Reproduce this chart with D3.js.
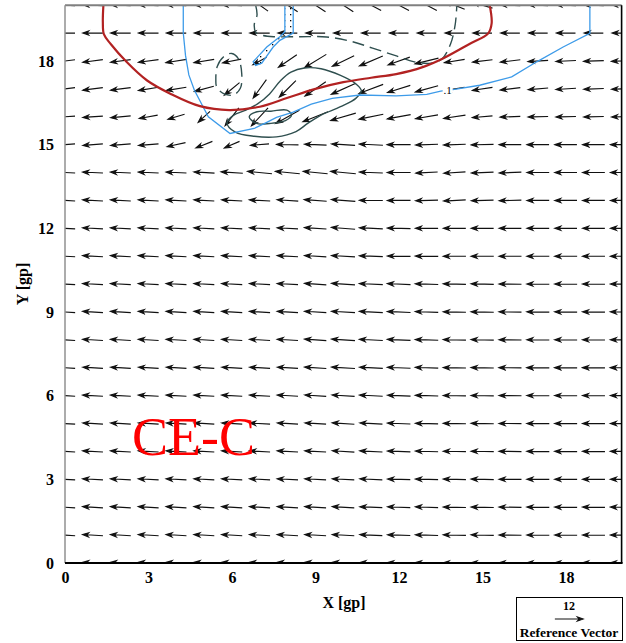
<!DOCTYPE html>
<html><head><meta charset="utf-8">
<script src="https://cdn.jsdelivr.net/npm/d3@7/dist/d3.min.js"></script>
<style>body{margin:0;background:#fff}svg{display:block}</style>
</head><body>
<svg id="c" width="626" height="643"></svg>
<script>
// ---------- data ----------
const gridX=[0,1,2,3,4,5,6,7,8,9,10,11,12,13,14,15,16,17,18,19,20];
const gridY=[0,1,2,3,4,5,6,7,8,9,10,11,12,13,14,15,16,17,18,19,20];
const xTicks=[0,3,6,9,12,15,18];
const yTicks=[0,3,6,9,12,15,18];
// U (east-west) and V (north-south) components, rows are Y = 0..20, columns X = 0..20
const U=[
[-8.6,-8.6,-8.6,-8.6,-8.6,-8.6,-8.7,-8.7,-8.8,-9.0,-9.3,-9.5,-9.6,-9.6,-9.6,-9.6,-9.5,-9.5,-9.5,-9.5,-9.5],
[-8.6,-8.6,-8.6,-8.6,-8.6,-8.6,-8.7,-8.7,-8.8,-9.0,-9.3,-9.5,-9.6,-9.6,-9.6,-9.6,-9.5,-9.5,-9.5,-9.5,-9.5],
[-8.6,-8.6,-8.6,-8.6,-8.6,-8.6,-8.7,-8.7,-8.8,-9.0,-9.3,-9.5,-9.6,-9.6,-9.6,-9.6,-9.5,-9.5,-9.5,-9.5,-9.5],
[-8.6,-8.6,-8.6,-8.6,-8.6,-8.6,-8.7,-8.7,-8.8,-9.0,-9.3,-9.5,-9.6,-9.6,-9.6,-9.6,-9.5,-9.5,-9.5,-9.5,-9.5],
[-8.6,-8.6,-8.6,-8.6,-8.6,-8.6,-8.7,-8.7,-8.8,-9.0,-9.4,-9.6,-9.7,-9.6,-9.6,-9.6,-9.5,-9.5,-9.5,-9.5,-9.5],
[-8.6,-8.6,-8.6,-8.6,-8.6,-8.6,-8.7,-8.7,-8.8,-9.0,-9.4,-9.6,-9.7,-9.6,-9.6,-9.6,-9.5,-9.5,-9.5,-9.5,-9.5],
[-8.6,-8.6,-8.6,-8.6,-8.6,-8.6,-8.7,-8.7,-8.8,-9.1,-9.6,-9.8,-9.8,-9.7,-9.6,-9.6,-9.5,-9.5,-9.5,-9.5,-9.5],
[-8.6,-8.6,-8.6,-8.6,-8.6,-8.6,-8.7,-8.7,-8.8,-9.2,-9.9,-9.9,-9.8,-9.7,-9.6,-9.6,-9.5,-9.5,-9.5,-9.5,-9.5],
[-8.6,-8.6,-8.6,-8.6,-8.6,-8.6,-8.7,-8.7,-8.8,-9.2,-9.9,-9.9,-9.8,-9.7,-9.6,-9.6,-9.5,-9.5,-9.5,-9.5,-9.5],
[-8.6,-8.6,-8.6,-8.6,-8.6,-8.6,-8.7,-8.7,-8.8,-9.2,-9.9,-9.9,-9.8,-9.7,-9.6,-9.6,-9.5,-9.5,-9.5,-9.5,-9.5],
[-8.6,-8.6,-8.6,-8.6,-8.6,-8.6,-8.7,-8.7,-8.8,-9.2,-9.9,-9.9,-9.8,-9.7,-9.6,-9.6,-9.5,-9.5,-9.5,-9.5,-9.5],
[-8.6,-8.6,-8.6,-8.6,-8.6,-8.6,-8.7,-8.7,-8.8,-9.2,-9.9,-9.9,-9.8,-9.7,-9.6,-9.6,-9.5,-9.5,-9.5,-9.5,-9.5],
[-8.6,-8.6,-8.6,-8.6,-8.6,-8.6,-8.7,-8.7,-8.8,-9.3,-10.0,-9.9,-9.8,-9.6,-9.5,-9.5,-9.4,-9.4,-9.4,-9.4,-9.4],
[-8.6,-8.6,-8.6,-8.6,-8.6,-8.6,-8.7,-8.8,-9.0,-9.5,-10.2,-9.9,-9.8,-9.5,-9.4,-9.4,-9.4,-9.4,-9.4,-9.4,-9.4],
[-8.6,-8.6,-8.6,-8.6,-8.6,-8.8,-9.2,-10.3,-10.3,-10.3,-10.6,-9.9,-9.9,-9.2,-9.2,-9.4,-9.4,-9.4,-9.4,-9.4,-9.4],
[-8.5,-8.5,-8.5,-8.5,-7.8,-7.0,-6.4,-7.8,-9.2,-9.4,-10.0,-10.0,-9.9,-9.5,-9.4,-9.4,-9.3,-9.3,-9.3,-9.3,-9.3],
[-8.5,-8.5,-8.5,-7.8,-7.0,-5.0,-5.8,-7.0,-10.0,-10.6,-10.6,-10.3,-9.9,-9.5,-9.2,-8.5,-8.5,-8.5,-8.5,-8.5,-8.5],
[-8.5,-8.5,-8.5,-8.5,-8.5,-8.2,-6.4,-5.6,-7.0,-8.8,-10.2,-10.2,-9.6,-9.6,-8.5,-8.5,-8.5,-8.5,-8.5,-8.5,-8.5],
[-8.5,-8.5,-8.5,-8.5,-8.7,-8.5,-7.8,-5.8,-7.8,-9.2,-9.2,-9.9,-9.2,-9.9,-8.5,-8.5,-8.5,-8.5,-8.5,-8.5,-8.5],
[-8.5,-8.5,-8.5,-8.5,-8.4,-8.4,-8.4,-8.4,-8.2,-8.2,-8.2,-8.1,-8.1,-8.1,-8.1,-8.1,-8.1,-8.1,-8.1,-8.1,-8.1],
[-8.5,-8.5,-8.5,-8.5,-8.5,-8.5,-8.5,-7.0,-8.5,-8.5,-8.5,-8.5,-8.5,-8.5,-8.5,-8.5,-8.5,-8.5,-8.5,-8.5,-8.5]
];
const V=[
[0.5,0.5,0.5,0.5,0.5,0.5,0.5,0.5,0.5,0.5,0.5,0.4,0.3,0.3,0.2,0.2,0.1,0.1,0.1,0.1,0.1],
[0.5,0.5,0.5,0.5,0.5,0.5,0.5,0.5,0.5,0.5,0.5,0.4,0.3,0.3,0.2,0.2,0.1,0.1,0.1,0.1,0.1],
[0.5,0.5,0.5,0.5,0.5,0.5,0.5,0.5,0.5,0.5,0.5,0.4,0.3,0.3,0.2,0.2,0.1,0.1,0.1,0.1,0.1],
[0.5,0.5,0.5,0.5,0.5,0.5,0.5,0.5,0.5,0.5,0.5,0.4,0.3,0.3,0.2,0.2,0.1,0.1,0.1,0.1,0.1],
[0.5,0.5,0.5,0.5,0.5,0.5,0.5,0.5,0.5,0.5,0.6,0.5,0.4,0.3,0.2,0.2,0.1,0.1,0.1,0.1,0.1],
[0.5,0.5,0.5,0.5,0.5,0.5,0.5,0.5,0.5,0.5,0.6,0.5,0.4,0.3,0.2,0.2,0.1,0.1,0.1,0.1,0.1],
[0.5,0.5,0.5,0.5,0.5,0.5,0.5,0.5,0.5,0.6,0.6,0.5,0.4,0.3,0.2,0.2,0.1,0.1,0.1,0.1,0.1],
[0.5,0.5,0.5,0.5,0.5,0.5,0.5,0.5,0.5,0.6,0.6,0.5,0.4,0.3,0.2,0.2,0.1,0.1,0.1,0.1,0.1],
[0.5,0.5,0.5,0.5,0.5,0.5,0.5,0.5,0.5,0.6,0.6,0.5,0.4,0.3,0.2,0.2,0.1,0.1,0.1,0.1,0.1],
[0.5,0.5,0.5,0.5,0.5,0.5,0.5,0.5,0.5,0.6,0.6,0.5,0.4,0.3,0.2,0.2,0.1,0.1,0.1,0.1,0.1],
[0.5,0.5,0.5,0.5,0.5,0.5,0.5,0.5,0.5,0.6,0.6,0.5,0.4,0.3,0.2,0.2,0.1,0.1,0.1,0.1,0.1],
[0.5,0.5,0.5,0.5,0.5,0.5,0.5,0.5,0.5,0.6,0.6,0.4,0.2,0.1,0.0,0.0,0.0,0.0,0.0,0.0,0.0],
[0.5,0.5,0.5,0.5,0.5,0.5,0.5,0.5,0.5,0.6,0.8,0.5,0.2,0.0,0.0,0.0,0.0,0.0,0.0,0.0,0.0],
[0.5,0.5,0.5,0.5,0.5,0.5,0.5,0.5,0.6,0.7,0.8,0.1,0.0,-0.3,-0.5,-0.3,-0.2,0.0,0.0,0.0,0.0],
[0.4,0.4,0.4,0.4,0.4,0.5,0.6,1.0,1.0,1.0,1.0,0.4,0.0,-0.5,-0.6,-0.4,-0.4,0.0,0.0,0.0,0.0],
[-0.7,-0.7,-0.7,-0.7,-1.7,-2.8,-2.8,-0.6,0.2,0.4,0.6,0.5,0.0,-0.3,-0.3,-0.2,0.0,0.0,0.0,0.0,0.0],
[-0.5,-0.6,-0.8,-1.4,-2.1,-4.6,-7.5,-7.5,-5.6,-4.2,-3.1,-2.1,-1.8,-1.6,-1.4,-0.7,-0.3,-0.2,-0.2,-0.2,-0.2],
[-1.0,-1.1,-1.1,-1.4,-1.4,-2.2,-5.3,-7.8,-7.0,-6.0,-4.6,-3.8,-3.0,-2.6,-1.4,-1.3,-1.0,-0.7,-0.5,-0.3,-0.3],
[-1.0,-1.1,-1.1,-1.1,-1.4,-1.4,-1.6,-3.2,-5.3,-5.6,-4.4,-4.2,-3.3,-2.4,-1.4,-1.0,-1.0,-0.5,-0.4,-0.3,-0.3],
[0.0,0.0,0.0,0.0,0.0,0.0,0.0,0.0,0.0,0.0,0.0,0.0,0.0,0.0,0.0,0.0,0.0,0.0,0.0,0.0,0.0],
[0.5,0.5,0.5,0.5,0.5,0.5,0.5,5.0,5.5,5.5,5.5,4.5,4.5,4.5,3.5,2.5,0.5,0.5,0.5,0.5,0.5]
];
const refMagnitude=12;
// contour lines [x, y] in grid points
const redContour=[[1.38,20],[1.36,19.4],[1.4,18.95],[1.65,18.6],[2.2,17.98],[2.95,17.3],[3.8,16.82],[4.85,16.38],[5.9,16.24],[7.0,16.36],[8.0,16.68],[9.0,17.0],[10.0,17.24],[11.0,17.4],[11.9,17.53],[12.85,17.78],[13.6,18.1],[14.55,18.62],[15.2,18.98],[15.33,19.35],[15.26,20]];
const blueContour=[[4.25,20],[4.25,19.0],[4.33,18.2],[4.45,17.5],[4.65,16.95],[5.15,16.0],[5.93,15.4],[6.8,15.58],[7.25,15.8],[7.6,15.98],[8.2,16.17],[8.85,16.45],[9.6,16.66],[10.6,16.78],[11.9,16.75],[13.0,16.8],[13.5,16.92],[14.0,16.98],[14.9,17.13],[16.05,17.43],[16.95,17.97],[17.9,18.5],[18.86,18.99],[18.86,20]];
const bluePatch=[[8.2,20],[8.2,19.0],[7.72,18.74],[7.48,18.5],[7.07,17.92],[6.85,17.84],[6.76,17.97],[7.25,18.5],[7.72,18.87],[7.9,19.05],[7.9,20]];
const dashLoop=[[5.42,17.3],[5.47,17.8],[5.7,18.15],[5.99,18.27],[6.23,18.08],[6.35,17.55],[6.3,17.02],[6.05,16.78],[5.7,16.83],[5.45,17.07]];
const dashLine=[[6.85,20],[6.9,19.65],[6.8,19.3],[6.86,19.02],[7.1,18.92],[7.5,18.87],[8.44,18.87],[9.4,18.86],[10.3,18.7],[11.05,18.46],[11.85,18.2],[12.55,17.97],[13.15,17.92],[13.55,18.08],[13.85,18.6],[14.02,19.3],[14.08,20]];
const solidLoop=[[5.82,15.78],[6.05,16.05],[6.45,16.22],[6.92,16.46],[7.35,16.82],[7.75,17.3],[8.12,17.6],[8.6,17.75],[9.2,17.72],[9.9,17.48],[10.45,17.18],[10.65,16.93],[10.45,16.66],[9.9,16.36],[9.2,16.06],[8.72,15.76],[8.3,15.47],[7.6,15.28],[6.8,15.3],[6.12,15.45]];
const solidSmall=[[6.62,16.0],[6.9,16.18],[7.4,16.2],[7.97,16.24],[8.14,16.06],[7.92,15.86],[7.35,15.76],[6.88,15.76]];

// ---------- layout ----------
const svg=d3.select("#c");
const x=d3.scaleLinear().domain([0,20]).range([65,621.6]);
const y=d3.scaleLinear().domain([0,20]).range([563,5.2]);
const pxPerUnit=28.3/12;
const serif="'Liberation Serif','Times New Roman',serif";

const defs=svg.append("defs");
defs.append("clipPath").attr("id","clip").append("rect")
  .attr("x",x(0)).attr("y",y(20)).attr("width",x(20)-x(0)).attr("height",y(0)-y(20));
const pat=defs.append("pattern").attr("id","dots").attr("patternUnits","userSpaceOnUse")
  .attr("width",6).attr("height",6);
pat.append("rect").attr("x",2).attr("y",2).attr("width",1.3).attr("height",1.3).attr("fill","#000");

const plot=svg.append("g").attr("clip-path","url(#clip)");

function arrowPath(cx,cy,dx,dy){
  const len=Math.hypot(dx,dy); if(len<0.01) return "";
  const ux=dx/len, uy=dy/len, px=-uy, py=ux;
  const tx=cx-dx/2, ty=cy-dy/2, hx=cx+dx/2, hy=cy+dy/2;
  const L=5.8, w=2.0;
  const bx=hx-L*ux, by=hy-L*uy, nx=hx-0.7*L*ux, ny=hy-0.7*L*uy;
  return `M${tx},${ty}L${nx},${ny}M${hx},${hy}L${bx+w*px},${by+w*py}L${nx},${ny}L${bx-w*px},${by-w*py}Z`;
}

// vectors
const vecs=[];
gridY.forEach((gy,j)=>gridX.forEach((gx,i)=>vecs.push({gx,gy,u:U[j][i],v:V[j][i]})));
plot.append("g").selectAll("path").data(vecs).join("path")
  .attr("d",d=>arrowPath(x(d.gx),y(d.gy),d.u*pxPerUnit,-d.v*pxPerUnit))
  .attr("stroke","#111").attr("stroke-width",1.15).attr("fill","#111");

// contours
const lineLin=d3.line().x(d=>x(d[0])).y(d=>y(d[1]));
const lineSm=d3.line().x(d=>x(d[0])).y(d=>y(d[1])).curve(d3.curveCatmullRom.alpha(0.5));
const lineCl=d3.line().x(d=>x(d[0])).y(d=>y(d[1])).curve(d3.curveCatmullRomClosed.alpha(0.5));
const slate="#2f4f4f";

plot.append("path").attr("d",lineSm(dashLine)).attr("fill","none").attr("stroke",slate)
  .attr("stroke-width",1.4).attr("stroke-dasharray","12,6");
plot.append("path").attr("d",lineCl(dashLoop)).attr("fill","none").attr("stroke",slate)
  .attr("stroke-width",1.4).attr("stroke-dasharray","12,6");
plot.append("path").attr("d",lineCl(solidLoop)).attr("fill","none").attr("stroke",slate).attr("stroke-width",1.4);
plot.append("path").attr("d",lineCl(solidSmall)).attr("fill","none").attr("stroke",slate).attr("stroke-width",1.4);
plot.append("path").attr("d",lineLin(bluePatch)+"Z").attr("fill","url(#dots)").attr("stroke","#3d9be9").attr("stroke-width",1.3);
plot.append("path").attr("d",lineLin(blueContour)).attr("fill","none").attr("stroke","#3d9be9").attr("stroke-width",1.3);
plot.append("path").attr("d",lineSm(redContour)).attr("fill","none").attr("stroke","#b22222").attr("stroke-width",2.2);

// contour label
const lx=x(13.75), ly=y(16.93);
plot.append("rect").attr("x",lx-5).attr("y",ly-5).attr("width",10).attr("height",8).attr("fill","#fff");
plot.append("text").attr("x",lx).attr("y",ly+3).attr("text-anchor","middle").attr("fill","#000")
  .attr("font-family",serif).attr("font-size",11).text(".1");

// frame
svg.append("line").attr("x1",x(0)).attr("x2",x(20)).attr("y1",y(20)).attr("y2",y(20)).attr("stroke","#808080").attr("stroke-width",2);
svg.append("line").attr("x1",x(0)).attr("x2",x(0)).attr("y1",y(20)).attr("y2",y(0)).attr("stroke","#909090").attr("stroke-width",1.5);
svg.append("line").attr("x1",x(20)).attr("x2",x(20)).attr("y1",y(20)).attr("y2",y(0)).attr("stroke","#000").attr("stroke-width",1.6);
svg.append("line").attr("x1",x(0)).attr("x2",x(20)+1).attr("y1",y(0)).attr("y2",y(0)).attr("stroke","#000").attr("stroke-width",2);

// axes
const xa=svg.append("g").attr("transform",`translate(0,${y(0)})`)
  .call(d3.axisBottom(x).tickValues(xTicks).tickSize(0).tickPadding(9).tickFormat(d3.format("d")));
const ya=svg.append("g").attr("transform",`translate(${x(0)},0)`)
  .call(d3.axisLeft(y).tickValues(yTicks).tickSize(0).tickPadding(11).tickFormat(d3.format("d")));
[xa,ya].forEach(a=>{a.select(".domain").remove();
  a.selectAll("text").attr("font-family",serif).attr("font-weight","bold").attr("font-size",16).attr("fill","#000");});

svg.append("text").attr("x",344).attr("y",608).attr("text-anchor","middle")
  .attr("font-family",serif).attr("font-weight","bold").attr("font-size",16).text("X [gp]");
svg.append("text").attr("transform","translate(28,284) rotate(-90)").attr("text-anchor","middle")
  .attr("font-family",serif).attr("font-weight","bold").attr("font-size",16).text("Y [gp]");

// panel label
svg.append("text").attr("x",132).attr("y",455).attr("font-family",serif).attr("font-size",54)
  .attr("fill","#ff0000").text("CE-C");

// reference vector legend
const lg=svg.append("g");
lg.append("rect").attr("x",516.5).attr("y",597.5).attr("width",106).attr("height",43)
  .attr("fill","#fff").attr("stroke","#000").attr("stroke-width",1);
lg.append("text").attr("x",569).attr("y",610).attr("text-anchor","middle").attr("font-family",serif)
  .attr("font-weight","bold").attr("font-size",12).text(refMagnitude);
lg.append("path").attr("d",arrowPath(569,619,refMagnitude*pxPerUnit,0))
  .attr("stroke","#111").attr("stroke-width",1.1).attr("fill","#111");
lg.append("text").attr("x",569).attr("y",637).attr("text-anchor","middle").attr("font-family",serif)
  .attr("font-weight","bold").attr("font-size",13.5).text("Reference Vector");
</script>
</body></html>
